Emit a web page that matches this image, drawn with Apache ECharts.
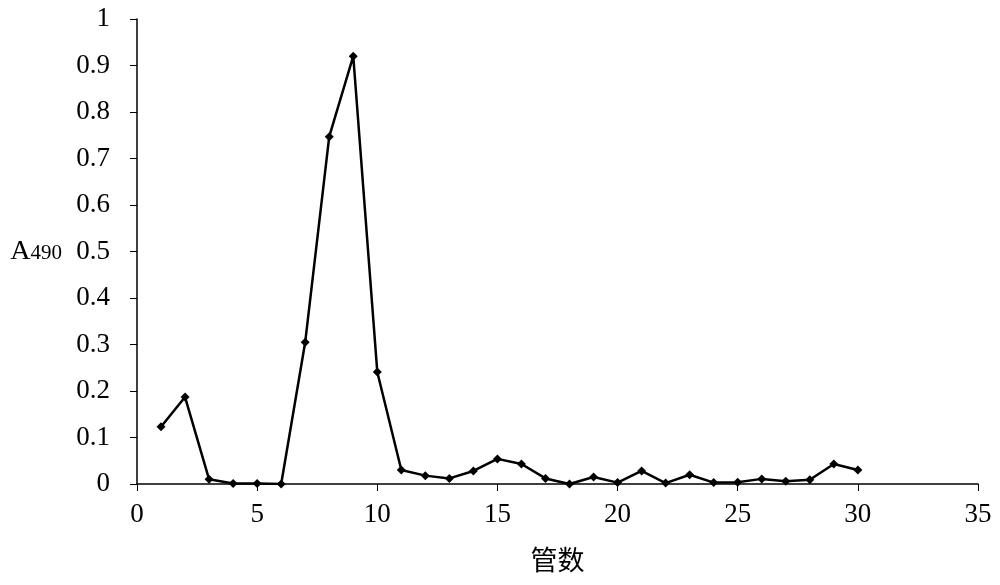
<!DOCTYPE html>
<html><head><meta charset="utf-8">
<script src="https://cdn.jsdelivr.net/npm/echarts@6/dist/echarts.min.js"></script>
<style>html,body{margin:0;padding:0;background:#fff}#c{width:1000px;height:585px}</style>
</head><body><div id="c"></div>
<script>
const tubes = [1,2,3,4,5,6,7,8,9,10,11,12,13,14,15,16,17,18,19,20,21,22,23,24,25,26,27,28,29,30];
const a490 = [0.123,0.187,0.010,0.001,0.001,0.000,0.305,0.747,0.920,0.241,0.030,0.018,0.012,0.028,0.054,0.043,0.012,0.000,0.015,0.003,0.028,0.002,0.020,0.003,0.004,0.011,0.006,0.009,0.043,0.030];
const xName = '管数';
const serif = '"Liberation Serif","DejaVu Serif",serif';
const chart = echarts.init(document.getElementById('c'));
chart.setOption({
  animation:false,
  grid:{left:137,right:22,top:19,bottom:101},
  xAxis:{type:'value',min:0,max:35,interval:5,
    name:xName,nameLocation:'middle',nameGap:62,
    nameTextStyle:{fontFamily:'"Noto Sans CJK SC",sans-serif',fontSize:27,color:'#000'},
    axisLine:{lineStyle:{color:'#000',width:1.5}},
    axisTick:{length:7,lineStyle:{color:'#000'}},
    axisLabel:{fontFamily:serif,fontSize:27,color:'#000',margin:17},
    splitLine:{show:false}},
  yAxis:{type:'value',min:0,max:1,interval:0.1,
    name:'{a|A}{s|490}',nameLocation:'middle',nameRotate:0,nameGap:75,
    nameTextStyle:{rich:{a:{fontFamily:serif,fontSize:28,color:'#000'},s:{fontFamily:serif,fontSize:21,color:'#000',padding:[4,0,0,0]}}},
    axisLine:{show:true,lineStyle:{color:'#000',width:1.5}},
    axisTick:{show:true,length:7,lineStyle:{color:'#000'}},
    axisLabel:{fontFamily:serif,fontSize:27,color:'#000',margin:27,formatter:v=>String(Math.round(v*10)/10)},
    splitLine:{show:false}},
  series:[{type:'line',data:tubes.map((t,i)=>[t,a490[i]]),
    symbol:'diamond',symbolSize:9,
    lineStyle:{color:'#000',width:2.5},itemStyle:{color:'#000'}}]
});
</script></body></html>
